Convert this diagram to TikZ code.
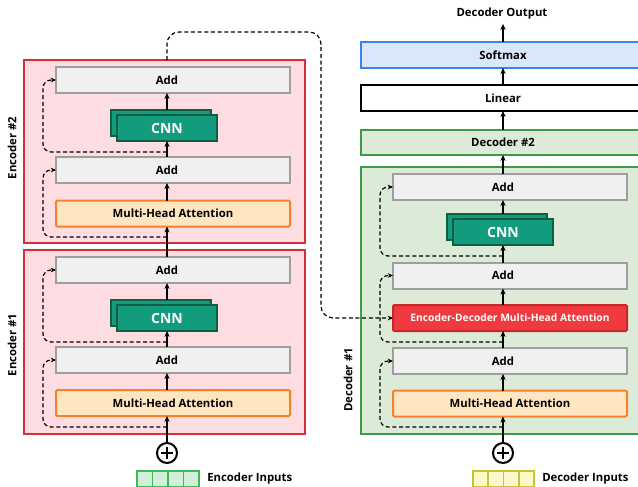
\documentclass[tikz,border=0pt]{standalone}
\usepackage{fontspec}
\setmainfont{Open Sans}
\usetikzlibrary{arrows.meta}
\definecolor{encfill}{HTML}{FDDDE1}
\definecolor{encborder}{HTML}{D5303A}
\definecolor{addfill}{HTML}{EFF0F0}
\definecolor{addborder}{HTML}{9E9E9E}
\definecolor{cnnfill}{HTML}{139B7D}
\definecolor{cnnborder}{HTML}{0E5E44}
\definecolor{mhafill}{HTML}{FFE6C0}
\definecolor{mhaborder}{HTML}{F5822A}
\definecolor{decfill}{HTML}{DCEBD7}
\definecolor{decborder}{HTML}{3C9A48}
\definecolor{softfill}{HTML}{DAE7FB}
\definecolor{softborder}{HTML}{3A86E8}
\definecolor{edfill}{HTML}{EF3B40}
\definecolor{edborder}{HTML}{C9262C}
\definecolor{einfill}{HTML}{D3EED9}
\definecolor{einborder}{HTML}{3CBB5A}
\definecolor{dinfill}{HTML}{FCF8CC}
\definecolor{dinborder}{HTML}{C8C52F}
\tikzset{
  box/.style={draw, line width=1.5pt, inner sep=0pt, outer sep=0pt, minimum width=175.5pt, minimum height=19.5pt},
  addbox/.style={box, fill=addfill, draw=addborder},
  mhabox/.style={box, fill=mhafill, draw=mhaborder, rounded corners=1pt},
  edbox/.style={box, fill=edfill, draw=edborder, rounded corners=1pt, text=white, font=\bfseries\fontsize{7.7}{9}\selectfont},
  cnnbox/.style={draw=cnnborder, fill=cnnfill, line width=1.3pt, inner sep=0pt, outer sep=0pt, minimum width=75pt, minimum height=19.5pt, text=white, font=\bfseries\fontsize{10.5}{12}\selectfont},
  encouter/.style={draw=encborder, fill=encfill, line width=1.5pt, inner sep=0pt, outer sep=0pt, minimum width=210.75pt},
  decouter/.style={draw=decborder, fill=decfill, line width=1.5pt, inner sep=0pt, outer sep=0pt, minimum width=213pt},
  wideb/.style={line width=1.5pt, inner sep=0pt, outer sep=0pt, minimum width=213pt, minimum height=19.5pt},
  inbox/.style={line width=1.3pt, inner sep=0pt, outer sep=0pt, minimum width=11.5pt, minimum height=12pt},
  flow/.style={line width=1.5pt, -{Stealth[length=4.5pt,width=4pt]}},
  skip/.style={line width=0.9pt, dash pattern=on 3pt off 2pt, rounded corners=6pt, -{Stealth[length=4pt,width=3.5pt]}},
  pluscirc/.style={draw, circle, line width=1.5pt, minimum size=15pt, inner sep=0pt, outer sep=0pt,
    path picture={\draw[line width=1.3pt] ([xshift=-4.5pt]path picture bounding box.center) -- ([xshift=4.5pt]path picture bounding box.center)
      ([yshift=-4.5pt]path picture bounding box.center) -- ([yshift=4.5pt]path picture bounding box.center);}},
  lab/.style={inner sep=0pt}
}
\begin{document}
\begin{tikzpicture}[x=0.75pt,y=-0.75pt,font=\bfseries\fontsize{8.5}{10}\selectfont]
\useasboundingbox (0,0) rectangle (638,486);
\clip (0,0) rectangle (638,486);
\fill[white] (0,0) rectangle (638,486);

% ---------------- Encoder #2 ----------------
\node[encouter, minimum height=137.25pt] (enc2) at (164.5,151.5) {};
\node[addbox] (e2add2) at (173,80) {\hspace*{-9pt}Add};
\node[cnnbox] (e2cnnb) at (161,123) {};
\node[cnnbox] (e2cnn) at (167,128) {CNN};
\node[addbox] (e2add1) at (173,170) {\hspace*{-9pt}Add};
\node[mhabox] (e2mha) at (173,213.5) {Multi-Head Attention};
\node[lab, rotate=90] (e2lab) at (12,148) {Encoder \#2};

% ---------------- Encoder #1 ----------------
\node[encouter, minimum height=138pt] (enc1) at (164.5,342) {};
\node[addbox] (e1add2) at (173,270) {\hspace*{-9pt}Add};
\node[cnnbox] (e1cnnb) at (161,313) {};
\node[cnnbox] (e1cnn) at (167,318) {CNN};
\node[addbox] (e1add1) at (173,360) {\hspace*{-9pt}Add};
\node[mhabox] (e1mha) at (173,403) {Multi-Head Attention};
\node[lab, rotate=90] (e1lab) at (12,345) {Encoder \#1};

\node[pluscirc] (ep) at (167,453) {};
\node[inbox, draw=einborder, fill=einfill] (ei1) at (144.75,479) {};
\node[inbox, draw=einborder, fill=einfill] (ei2) at (160.25,479) {};
\node[inbox, draw=einborder, fill=einfill] (ei3) at (175.75,479) {};
\node[inbox, draw=einborder, fill=einfill] (ei4) at (191.25,479) {};
\node[lab, anchor=west] (eintxt) at (207,479) {Encoder Inputs};

% ---------------- Decoder side ----------------
\node[lab] (dout) at (502,14) {Decoder Output};
\node[wideb, draw=softborder, fill=softfill] (soft) at (503,55) {Softmax};
\node[wideb, draw=black, fill=white] (lin) at (503,98) {Linear};
\node[wideb, draw=decborder, fill=decfill, minimum height=18.75pt] (dec2) at (503,142.5) {Decoder \#2};
\node[decouter, minimum height=200.25pt] (dec1) at (503,300) {};
\node[addbox] (dadd3) at (510,187) {\hspace*{-10.5pt}Add};
\node[cnnbox] (dcnnb) at (497,227) {};
\node[cnnbox] (dcnn) at (503,232) {CNN};
\node[addbox] (dadd2) at (510,275.5) {\hspace*{-10.5pt}Add};
\node[edbox] (ded) at (510,318) {Encoder-Decoder Multi-Head Attention};
\node[addbox] (dadd1) at (510,361) {\hspace*{-10.5pt}Add};
\node[mhabox] (dmha) at (510,403.5) {Multi-Head Attention};
\node[lab, rotate=90] (dlab) at (348,380) {Decoder \#1};

\node[pluscirc] (dp) at (503,453) {};
\node[inbox, draw=dinborder, fill=dinfill] (di1) at (480.6,479) {};
\node[inbox, draw=dinborder, fill=dinfill] (di2) at (495.9,479) {};
\node[inbox, draw=dinborder, fill=dinfill] (di3) at (511.1,479) {};
\node[inbox, draw=dinborder, fill=dinfill] (di4) at (526.4,479) {};
\node[lab, anchor=west] (dintxt) at (542,479) {Decoder Inputs};

% ---------------- Encoder flow ----------------
\draw[flow] (ep.north) -- (e1mha.south -| ep.north);
\draw[flow] (e1mha.north -| ep) -- (e1add1.south -| ep);
\draw[flow] (e1add1.north -| ep) -- (e1cnn.south);
\draw[flow] (e1cnnb.north -| e1cnn) -- (e1add2.south -| e1cnn);
\draw[flow] (e1add2.north -| ep) -- (e2mha.south -| ep);
\draw[flow] (e2mha.north -| ep) -- (e2add1.south -| ep);
\draw[flow] (e2add1.north -| ep) -- (e2cnn.south);
\draw[flow] (e2cnnb.north -| e2cnn) -- (e2add2.south -| e2cnn);

\coordinate (e1s1) at (167,427);
\coordinate (e1s2) at (167,342);
\coordinate (e2s1) at (167,237);
\coordinate (e2s2) at (167,152);
\draw[skip] (e1s1) -- (43,427) |- (e1add1.west);
\draw[skip] (e1s2) -- (43,342) |- (e1add2.west);
\draw[skip] (e2s1) -- (43,237) |- (e2add1.west);
\draw[skip] (e2s2) -- (43,152) |- (e2add2.west);

% ---------------- Decoder flow ----------------
\draw[flow] (dp.north) -- (dmha.south -| dp.north);
\draw[flow] (dmha.north -| dp) -- (dadd1.south -| dp);
\draw[flow] (dadd1.north -| dp) -- (ded.south -| dp);
\draw[flow] (ded.north -| dp) -- (dadd2.south -| dp);
\draw[flow] (dadd2.north -| dp) -- (dcnn.south);
\draw[flow] (dcnnb.north -| dcnn) -- (dadd3.south -| dcnn);
\draw[flow] (dadd3.north -| dp) -- (dec2.south -| dp);
\draw[flow] (dec2.north -| dp) -- (lin.south -| dp);
\draw[flow] (lin.north -| dp) -- (soft.south -| dp);
\draw[flow] (soft.north -| dp) -- ([yshift=-3pt]dout.south -| dp);

\coordinate (ds1) at (503,427);
\coordinate (ds2) at (503,342);
\coordinate (ds3) at (503,256);
\draw[skip] (ds1) -- (380,427) |- (dadd1.west);
\draw[skip] (ds2) -- (380,342) |- (dadd2.west);
\draw[skip] (ds3) -- (380,256) |- (dadd3.west);

% ---------------- Encoder to decoder ----------------
\coordinate (c1) at (167,32);
\coordinate (c2) at (321,32);
\draw[skip, rounded corners=9pt] (enc2.north -| ep) -- (c1) -- (c2) |- (ded.west);
\end{tikzpicture}
\end{document}
